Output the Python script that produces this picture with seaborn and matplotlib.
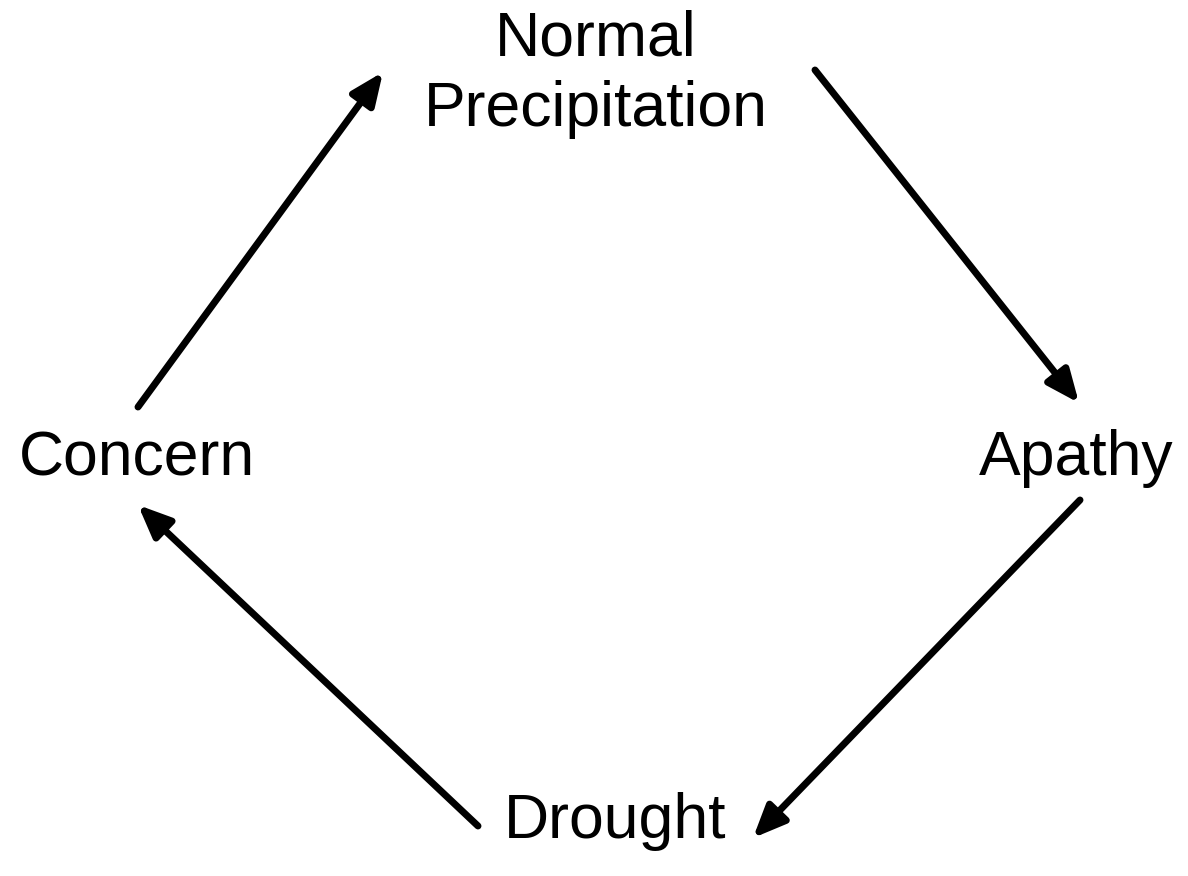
import matplotlib.pyplot as plt
import seaborn as sns

# nodes of the cycle (label, x, baseline y) in pixel space
labels = ['Normal\nPrecipitation', 'Apathy', 'Drought', 'Concern']
label_x = [596, 1076, 615, 137]
label_y = [126, 475, 838, 475]

# arrows between the nodes (tail -> head)
tail_x = [138, 815, 1080, 478]
tail_y = [407, 70, 500, 826]
head_x = [383, 1079, 753, 138]
head_y = [72, 403, 838, 505]

sns.set_theme(style='white')
plt.rcParams['font.family'] = ['Liberation Sans', 'DejaVu Sans']

fig = plt.figure(figsize=(11.88, 8.76), dpi=100)
ax = fig.add_axes([0, 0, 1, 1])
ax.set_xlim(0, 1188)
ax.set_ylim(876, 0)
ax.axis('off')

for lab, x, y in zip(labels, label_x, label_y):
    ax.text(x, y, lab, ha='center', va='baseline', fontsize=45,
            color='black', linespacing=1.26, multialignment='center')

for x0, y0, x1, y1 in zip(tail_x, tail_y, head_x, head_y):
    ax.annotate('', xy=(x1, y1), xytext=(x0, y0),
                arrowprops=dict(arrowstyle='-|>,head_length=0.65,head_width=0.28',
                                lw=5, color='black', mutation_scale=30,
                                shrinkA=0, shrinkB=0))

fig.savefig('out.png', dpi=100, facecolor='white')
